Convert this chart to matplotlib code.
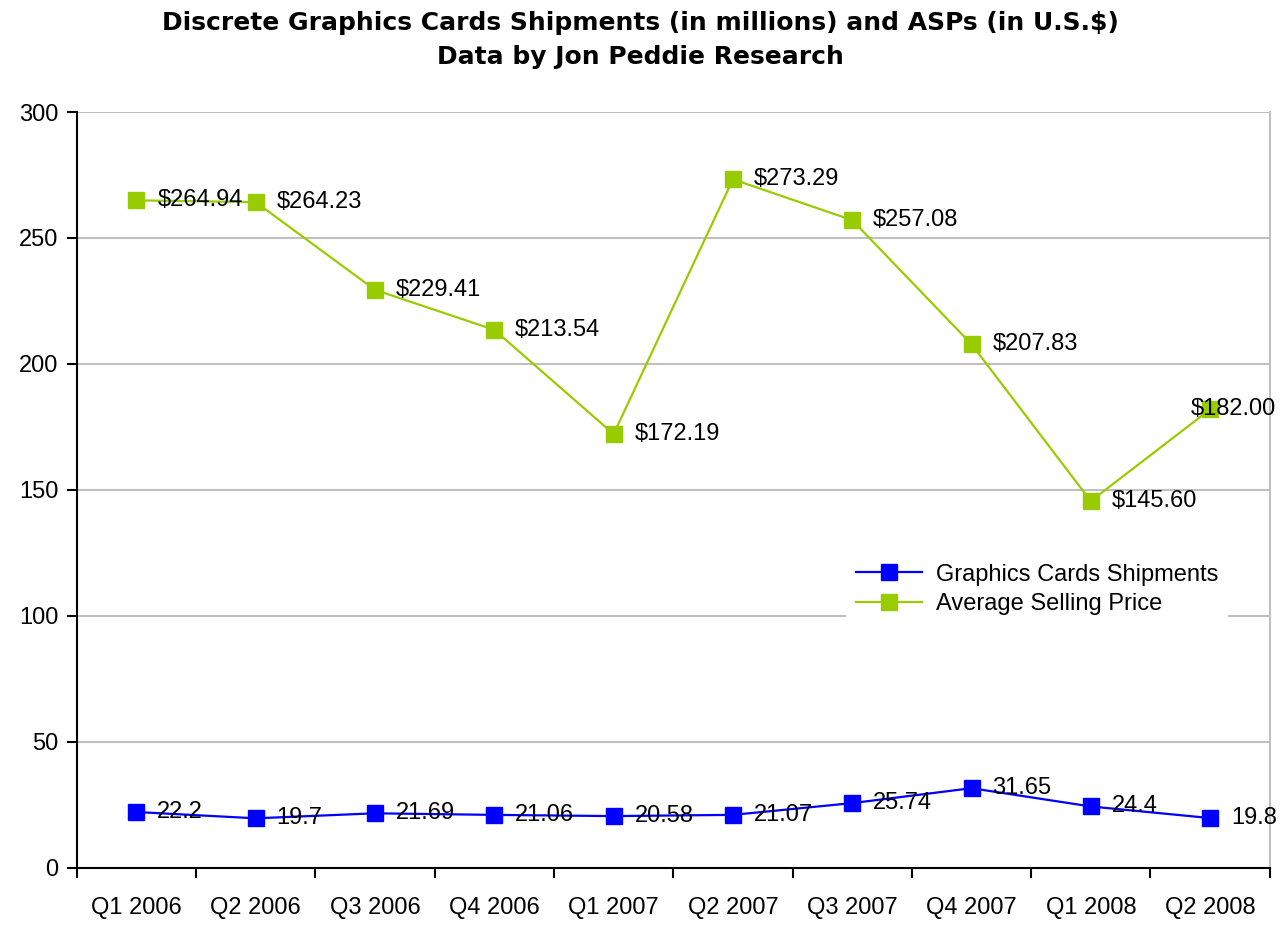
import matplotlib.pyplot as plt
import numpy as np

kvartaler = ["Q1 2006", "Q2 2006", "Q3 2006", "Q4 2006", "Q1 2007",
             "Q2 2007", "Q3 2007", "Q4 2007", "Q1 2008", "Q2 2008"]
leveranser = [22.2, 19.7, 21.69, 21.06, 20.58, 21.07, 25.74, 31.65, 24.4, 19.8]
leveranse_tekst = ["22.2", "19.7", "21.69", "21.06", "20.58", "21.07", "25.74", "31.65", "24.4", "19.8"]
snittpris = [264.94, 264.23, 229.41, 213.54, 172.19, 273.29, 257.08, 207.83, 145.60, 182.00]

plt.rcParams["font.family"] = ["Liberation Sans", "DejaVu Sans"]

fig = plt.figure(figsize=(12.8, 9.42), dpi=100)
ax = fig.add_axes([0.060, 0.0786, 0.932, 0.8025])
x = np.arange(len(kvartaler))

ax.plot(x, leveranser, color="#0000ff", lw=1.6, marker="s", ms=11,
        label="Graphics Cards Shipments", zorder=3)
ax.plot(x, snittpris, color="#99cc00", lw=1.6, marker="s", ms=11,
        label="Average Selling Price", zorder=3)

for xi, v, t in zip(x, leveranser, leveranse_tekst):
    ax.annotate(t, (xi, v), xytext=(15, 0), textcoords="offset points",
                va="center", ha="left", fontsize=17, zorder=4)
for i, (xi, v) in enumerate(zip(x, snittpris)):
    dx = 15 if i < len(snittpris) - 1 else -14  # siste etikett flyttes inn
    ax.annotate(f"${v:.2f}", (xi, v), xytext=(dx, 0), textcoords="offset points",
                va="center", ha="left", fontsize=17, zorder=4)

ax.set_xlim(-0.5, len(kvartaler) - 0.5)
ax.set_ylim(0, 300)
ax.set_yticks(np.arange(0, 301, 50))
ax.set_xticks(np.arange(-0.5, len(kvartaler)))
ax.set_xticklabels([])
ax.set_xticks(x, kvartaler, minor=True)
ax.tick_params(axis="x", which="minor", length=0, pad=21, labelsize=17)
ax.tick_params(axis="x", which="major", length=7, width=1.5, direction="out")
ax.tick_params(axis="y", length=7, width=1.5, direction="out", labelsize=17, pad=6)
ax.grid(axis="y", color="#c0c0c0", lw=1.5)
ax.set_axisbelow(True)
ax.spines["top"].set_visible(False)
ax.spines["right"].set_color("#c0c0c0")
ax.spines["right"].set_linewidth(1.5)
ax.spines["left"].set_linewidth(1.5)
ax.spines["bottom"].set_linewidth(1.5)

leg = ax.legend(loc="upper left", bbox_to_anchor=(0.645, 0.415), fontsize=17,
                frameon=True, fancybox=False, facecolor="white", edgecolor="none",
                framealpha=1, handlelength=2.8, handletextpad=0.6,
                borderaxespad=0, labelspacing=0.3)

fig.text(0.5, 0.988, "Discrete Graphics Cards Shipments (in millions) and ASPs (in U.S.$)\nData by Jon Peddie Research",
         ha="center", va="top", fontsize=18, fontweight="bold", family="DejaVu Sans",
         linespacing=1.5)

fig.savefig("out.png", dpi=100)
